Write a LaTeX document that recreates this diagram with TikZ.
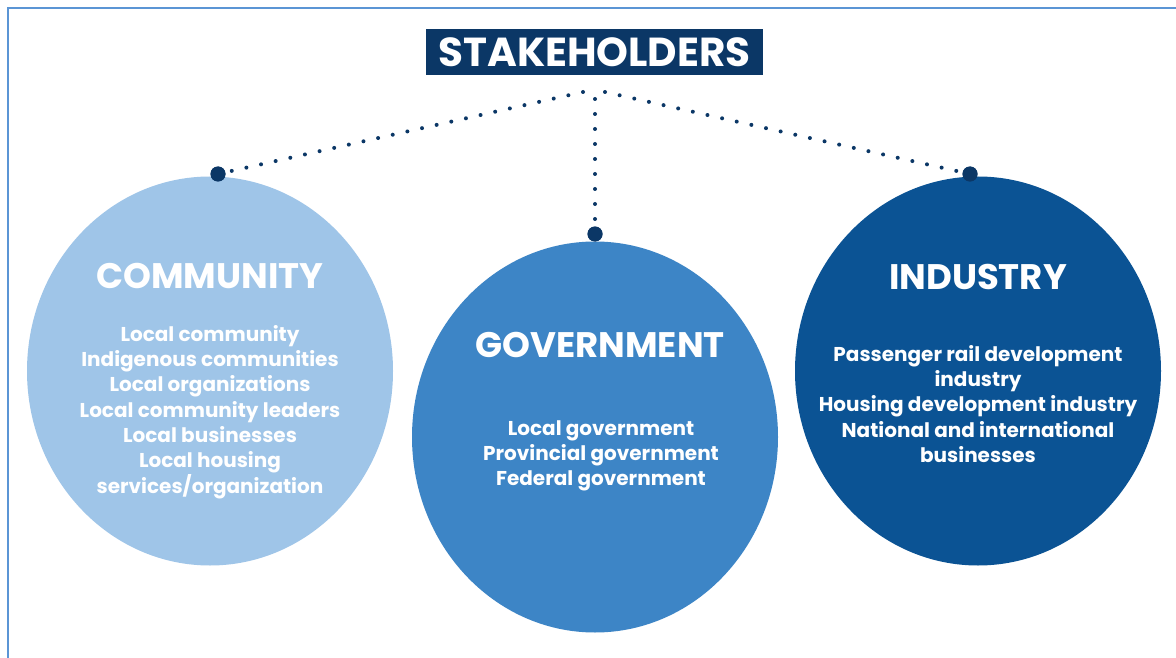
\documentclass[tikz,border=0pt]{standalone}
\usepackage{fontspec}
\setmainfont{Poppins}
\usetikzlibrary{shapes.geometric}
\definecolor{frameblue}{HTML}{5B95D5}
\definecolor{navy}{HTML}{0B3766}
\definecolor{commfill}{HTML}{9FC5E8}
\definecolor{govfill}{HTML}{3D85C6}
\definecolor{indfill}{HTML}{0B5394}
\begin{document}
\begin{tikzpicture}[x=1pt,y=-1pt,
  group/.style={ellipse, minimum width=366pt, minimum height=389pt, inner sep=0pt},
  heading/.style={text=white, inner sep=0pt, font=\fontsize{35.5}{40}\selectfont\bfseries},
  members/.style={text=white, align=center, inner sep=0pt, font=\fontsize{20}{25.3}\selectfont\bfseries},
  pin/.style={circle, fill=navy, minimum size=15pt, inner sep=0pt},
  dotline/.style={navy, line width=4pt, line cap=round, dash pattern=on 0pt off 15pt}]
\useasboundingbox (0,0) rectangle (1176,658);
\fill[white] (0,0) rectangle (1176,658);
% frame (only its top and left sides fall inside the page)
\draw[frameblue, line width=2.5pt] (8,658) -- (8,8) -- (1176,8);

% title banner
\node[fill=navy, text=white, minimum width=337pt, minimum height=46pt, inner sep=0pt,
      font=\fontsize{40.5}{42}\selectfont\bfseries] (title) at (594.5,52) {STAKEHOLDERS};

% the three stakeholder groups
\node[group, fill=commfill] (comm) at (210,371) {};
\node[group, fill=govfill, minimum height=391pt] (gov) at (595,437) {};
\node[group, fill=indfill] (ind) at (978,371) {};

\node[heading] (commhead) at (210,276) {COMMUNITY};
\node[members] (commlist) at (210,412) {Local community\\Indigenous communities\\Local organizations\\Local community leaders\\Local businesses\\Local housing\\services/organization};

\node[heading] (govhead) at (600,345) {GOVERNMENT};
\node[members] (govlist) at (601,456) {Local government\\Provincial government\\Federal government};

\node[heading] (indhead) at (978,277) {INDUSTRY};
\node[members] (indlist) at (978,404) {Passenger rail development\\industry\\Housing development industry\\National and international\\businesses};

% dotted links from the banner to the groups
\coordinate (apexL) at (583,92);
\coordinate (apexM) at (595,99);
\coordinate (apexR) at (605,92);
\node[pin] (pinC) at (218,174) {};
\node[pin] (pinG) at (595,234) {};
\node[pin] (pinI) at (970,174) {};
\draw[dotline] (apexL) -- (pinC);
\draw[dotline] (apexM) -- (pinG);
\draw[dotline] (apexR) -- (pinI);
\node[pin] at (pinC) {};
\node[pin] at (pinG) {};
\node[pin] at (pinI) {};
\end{tikzpicture}
\end{document}
